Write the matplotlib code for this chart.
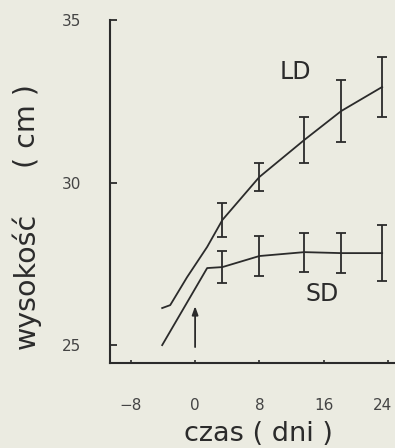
import matplotlib
matplotlib.use("Agg")
import matplotlib.pyplot as plt
import matplotlib.transforms as mtransforms

# Data
ld_curve_x = [-4.1, -3.1, -1.0, 1.5]
ld_curve_y = [26.14, 26.23, 27.09, 28.02]
sd_curve_x = [-4.1, 1.5]
sd_curve_y = [25.0, 27.37]

bar_days = [3.4, 8.0, 13.6, 18.2, 23.3]
ld_mean = [28.85, 30.17, 31.31, 32.20, 32.94]
ld_err = [0.51, 0.43, 0.71, 0.95, 0.92]
sd_mean = [27.40, 27.74, 27.86, 27.83, 27.83]
sd_err = [0.48, 0.62, 0.60, 0.62, 0.86]

x_ticks = [-8, 0, 8, 16, 24]
x_tick_labels = ["\u22128", "0", "8", "16", "24"]
y_ticks = [25, 30, 35]

paper = "#ebebe1"
ink = "#2b2b2b"

fig = plt.figure(figsize=(3.95, 4.48), dpi=100, facecolor=paper)
ax = fig.add_axes([110/395, 85/448, 285/395, 343/448])
ax.set_facecolor(paper)

ax.plot(ld_curve_x + bar_days, ld_curve_y + ld_mean, color=ink, lw=1.3)
ax.plot(sd_curve_x + bar_days, sd_curve_y + sd_mean, color=ink, lw=1.3)
ax.errorbar(bar_days, ld_mean, yerr=ld_err, fmt="none", ecolor=ink,
            elinewidth=1.3, capsize=3.5, capthick=1.3)
ax.errorbar(bar_days, sd_mean, yerr=sd_err, fmt="none", ecolor=ink,
            elinewidth=1.3, capsize=3.5, capthick=1.3)

ax.annotate("", xy=(0, 26.2), xytext=(0, 24.94),
            arrowprops=dict(arrowstyle="-|>,head_length=0.5,head_width=0.18",
                            color=ink, lw=1.3, shrinkA=0, shrinkB=0))

ax.text(12.45, 33.4, "LD", fontsize=17, color=ink, ha="center", va="center")
ax.text(15.8, 26.57, "SD", fontsize=17, color=ink, ha="center", va="center")

ax.set_xlim(-10.6, 24.9)
ax.set_ylim(24.45, 35)
ax.set_xticks(x_ticks)
ax.set_xticklabels(x_tick_labels)
ax.set_yticks(y_ticks)

for s in ["top", "right"]:
    ax.spines[s].set_visible(False)
for s in ["left", "bottom"]:
    ax.spines[s].set_linewidth(1.5)
    ax.spines[s].set_color(ink)

ax.tick_params(axis="y", direction="in", length=5, width=1.3, color=ink,
               labelsize=11, labelcolor="#444444", pad=21)
ax.tick_params(axis="x", direction="in", length=2.5, width=1.2, color=ink,
               labelsize=11, labelcolor="#444444", pad=25)

# keep the last tick label inside the canvas
last = ax.get_xticklabels()[-1]
last.set_transform(last.get_transform() +
                   mtransforms.ScaledTranslation(-5/100, 0, fig.dpi_scale_trans))

fig.text(26/395, 1 - 281/448, "wysokość", rotation=90, fontsize=20.5,
         color=ink, ha="center", va="center")
fig.text(26/395, 1 - 126/448, "( cm )", rotation=90, fontsize=20.5,
         color=ink, ha="center", va="center")
fig.text(258/395, 1 - 434/448, "czas ( dni )", fontsize=19.5, color=ink,
         ha="center", va="center")

fig.savefig("out.png", dpi=100, facecolor=paper)
